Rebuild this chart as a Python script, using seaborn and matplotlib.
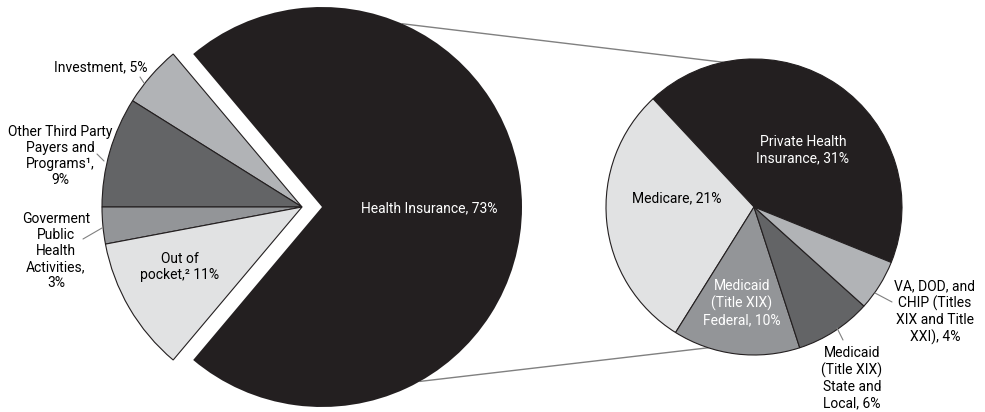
import matplotlib
matplotlib.use("Agg")
import matplotlib.pyplot as plt
import seaborn as sns
import numpy as np

# ---- data ----
left_labels = ["Health Insurance, 73%", "Investment, 5%",
               "Other Third Party\nPayers and\nPrograms\u00b9,\n9%",
               "Goverment\nPublic\nHealth\nActivities,\n3%",
               "Out of\npocket,\u00b2 11%"]
left_values = [73, 5, 9, 3, 11]

right_labels = ["Private Health\nInsurance, 31%", "Medicare, 21%",
                "Medicaid\n(Title XIX)\nFederal, 10%",
                "Medicaid\n(Title XIX)\nState and\nLocal, 6%",
                "VA, DOD, and\nCHIP (Titles\nXIX and Title\nXXI), 4%"]
right_values = [31, 21, 10, 6, 4]

# ---- style ----
sns.set_theme(style="white")
plt.rcParams['font.family'] = ['Roboto', 'DejaVu Sans']

BLACK = "#231f20"
left_colors = [BLACK, "#b1b3b6", "#636466", "#939598", "#e1e2e3"]
right_colors = [BLACK, "#e1e2e3", "#939598", "#636466", "#b1b3b6"]

W, H = 985, 412
fig = plt.figure(figsize=(W / 100, H / 100), dpi=100)
ax = fig.add_axes([0, 0, 1, 1])

L_CENTER, L_R = (302, 205), 200
R_CENTER, R_R = (754, 205), 148
EXPLODE = 20

wp = dict(edgecolor=BLACK, linewidth=0.8)
l_start = -0.5 * left_values[0] / sum(left_values) * 360
lw, _ = ax.pie(left_values, colors=left_colors, startangle=l_start,
               counterclock=True, explode=[EXPLODE, 0, 0, 0, 0],
               center=L_CENTER, radius=L_R, wedgeprops=wp, frame=True)
lw[0].set_edgecolor("none")
rw, _ = ax.pie(right_values, colors=right_colors, startangle=-22,
               counterclock=True, center=R_CENTER, radius=R_R,
               wedgeprops=wp, frame=True)

# connector lines between the exploded slice and the right pie
bc = lw[0].center
for a_left, a_right in [(66.4, 102.0), (-60.7, -108.0)]:
    p1 = (bc[0] + L_R * np.cos(np.radians(a_left)), bc[1] + L_R * np.sin(np.radians(a_left)))
    p2 = (R_CENTER[0] + R_R * np.cos(np.radians(a_right)), R_CENTER[1] + R_R * np.sin(np.radians(a_right)))
    ax.plot([p1[0], p2[0]], [p1[1], p2[1]], color="#808080", lw=1.0, zorder=0.5)

FS = 10
def t(x, y, s, c="black", fs=FS):
    ax.text(x, H - y, s, ha="center", va="center", fontsize=fs, color=c,
            linespacing=1.2)

# left labels (pixel positions from top)
t(429, 208, left_labels[0], "white")
t(101, 67, left_labels[1])
t(60, 156, left_labels[2])
t(56, 251, left_labels[3])
t(180, 267, left_labels[4])
# right labels
t(803, 150, right_labels[0], "white")
t(677, 198, right_labels[1])
t(742, 303, right_labels[2], "white")
t(852, 378, right_labels[3])
t(935, 312, right_labels[4])

# leader lines
for (x1, y1), (x2, y2) in [((140, 77), (144, 83)), ((97, 154), (104, 161)),
                           ((83, 239), (102, 228)), ((875, 293), (892, 302)),
                           ((837, 328), (843, 340))]:
    ax.plot([x1, x2], [H - y1, H - y2], color="#808080", lw=0.8)

ax.set_xlim(0, W)
ax.set_ylim(0, H)
ax.set_aspect("equal")
ax.axis("off")
fig.savefig("out.png", dpi=100, facecolor="white")
